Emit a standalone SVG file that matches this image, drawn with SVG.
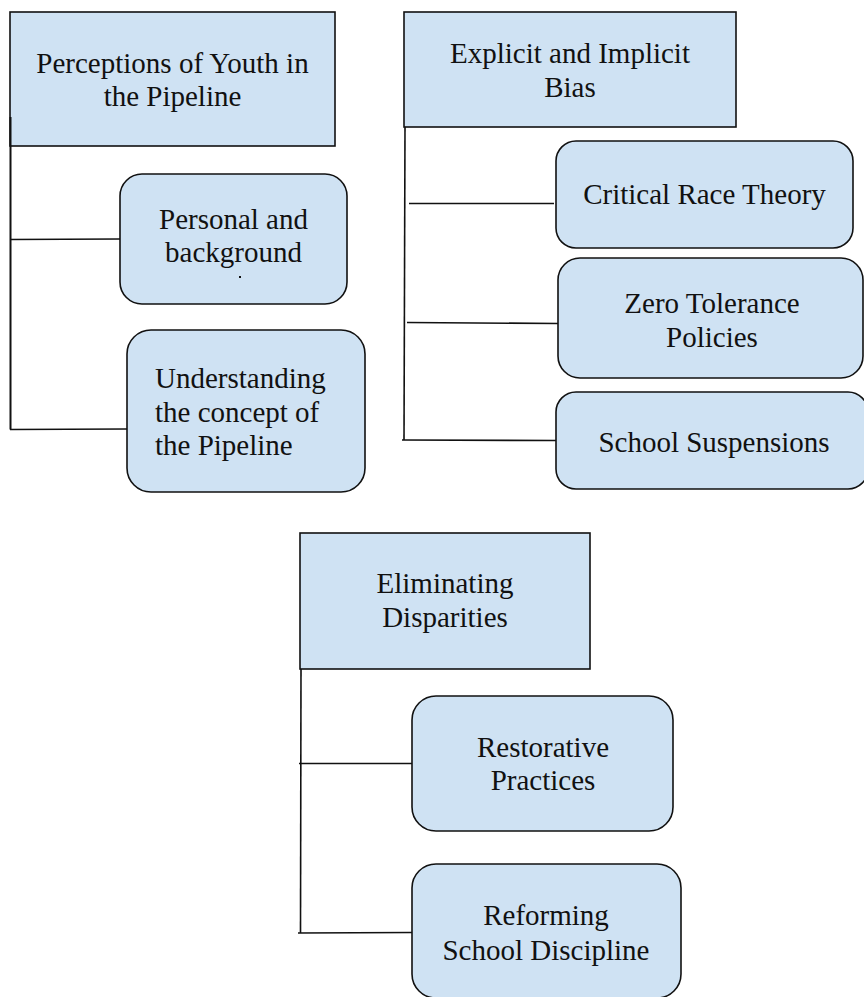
<svg xmlns="http://www.w3.org/2000/svg" width="864" height="997" viewBox="0 0 864 997">
<style>
.box{fill:#cfe2f3;stroke:#111;stroke-width:1.6}
.t{font-family:"Liberation Serif","Times New Roman",serif;font-size:29px;fill:#111}
.c{text-anchor:middle}
.conn line{stroke:#111;stroke-width:1.6;fill:none}
</style>
<rect width="864" height="997" fill="#fff"/>
<g id="n1">
<rect class="box" x="10" y="12" width="325" height="134"/>
<text class="t c" x="172.5" y="73">Perceptions of Youth in</text>
<text class="t c" x="172.5" y="106">the Pipeline</text>
</g>
<g id="n2">
<rect class="box" x="120" y="174" width="227" height="130" rx="22"/>
<text class="t c" x="233.5" y="229">Personal and</text>
<text class="t c" x="233.5" y="262">background</text>
<rect x="239" y="276" width="2" height="2" fill="#111"/>
</g>
<g id="n3">
<rect class="box" x="127" y="330" width="238" height="162" rx="24"/>
<text class="t" x="155" y="388">Understanding</text>
<text class="t" x="155" y="422">the concept of</text>
<text class="t" x="155" y="455">the Pipeline</text>
</g>
<g id="n4">
<rect class="box" x="404" y="12" width="332" height="115"/>
<text class="t c" x="570" y="63">Explicit and Implicit</text>
<text class="t c" x="570" y="97">Bias</text>
</g>
<g id="n5">
<rect class="box" x="556" y="141" width="297" height="107" rx="20"/>
<text class="t c" x="704.5" y="204">Critical Race Theory</text>
</g>
<g id="n6">
<rect class="box" x="558" y="258" width="305" height="120" rx="22"/>
<text class="t c" x="712" y="313">Zero Tolerance</text>
<text class="t c" x="712" y="347">Policies</text>
</g>
<g id="n7">
<rect class="box" x="556" y="392" width="312" height="97" rx="20"/>
<text class="t c" x="714" y="452">School Suspensions</text>
</g>
<g id="n8">
<rect class="box" x="300" y="533" width="290" height="136"/>
<text class="t c" x="445" y="593">Eliminating</text>
<text class="t c" x="445" y="627">Disparities</text>
</g>
<g id="n9">
<rect class="box" x="412" y="696" width="261" height="135" rx="24"/>
<text class="t c" x="543" y="757">Restorative</text>
<text class="t c" x="543" y="790">Practices</text>
</g>
<g id="n10">
<rect class="box" x="412" y="864" width="269" height="134" rx="24"/>
<text class="t c" x="546" y="925">Reforming</text>
<text class="t c" x="546" y="960">School Discipline</text>
</g>
<g id="connectors" class="conn">
<line x1="10.5" y1="117" x2="10.5" y2="429.5" style="stroke-width:2"/>
<line x1="10" y1="239.5" x2="120" y2="239"/>
<line x1="10" y1="429.5" x2="127" y2="429"/>
<line x1="405" y1="127" x2="404" y2="440"/>
<line x1="409" y1="203.5" x2="554" y2="203.5"/>
<line x1="407" y1="322.5" x2="558" y2="323.5"/>
<line x1="402" y1="440" x2="556" y2="440.5"/>
<line x1="301" y1="669" x2="300.5" y2="933"/>
<line x1="299" y1="763.5" x2="412" y2="763.5"/>
<line x1="298" y1="933" x2="412" y2="932.5"/>
</g>
</svg>
